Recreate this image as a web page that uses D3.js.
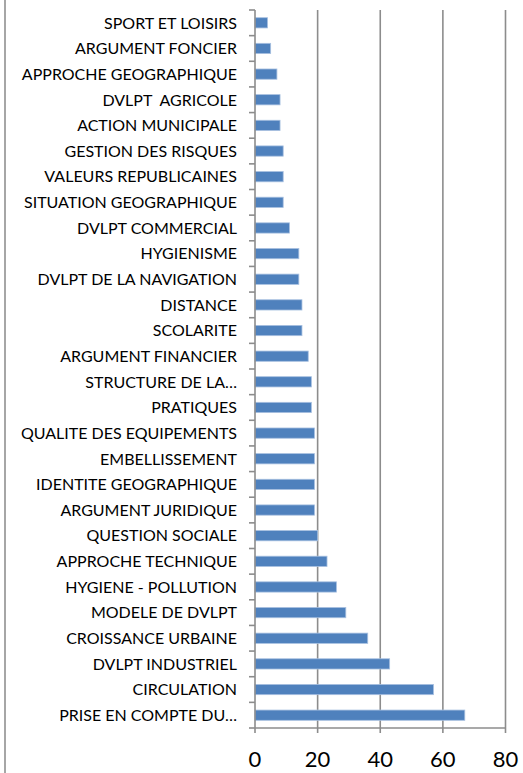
<!DOCTYPE html>
<html>
<head>
<meta charset="utf-8">
<script src="https://cdn.jsdelivr.net/npm/d3@7"></script>
<style>
  html, body { margin: 0; padding: 0; background: #fff; }
  svg { display: block; }
  text { white-space: pre; }
</style>
</head>
<body>
<svg id="chart" width="523" height="773"></svg>
<script>
// Categories, top to bottom as drawn
const categories = [
  "SPORT ET LOISIRS",
  "ARGUMENT FONCIER",
  "APPROCHE GEOGRAPHIQUE",
  "DVLPT  AGRICOLE",
  "ACTION MUNICIPALE",
  "GESTION DES RISQUES",
  "VALEURS REPUBLICAINES",
  "SITUATION GEOGRAPHIQUE",
  "DVLPT COMMERCIAL",
  "HYGIENISME",
  "DVLPT DE LA NAVIGATION",
  "DISTANCE",
  "SCOLARITE",
  "ARGUMENT FINANCIER",
  "STRUCTURE DE LA…",
  "PRATIQUES",
  "QUALITE DES EQUIPEMENTS",
  "EMBELLISSEMENT",
  "IDENTITE GEOGRAPHIQUE",
  "ARGUMENT JURIDIQUE",
  "QUESTION SOCIALE",
  "APPROCHE TECHNIQUE",
  "HYGIENE - POLLUTION",
  "MODELE DE DVLPT",
  "CROISSANCE URBAINE",
  "DVLPT INDUSTRIEL",
  "CIRCULATION",
  "PRISE EN COMPTE DU…"
];

// Occurrence counts for each category
const values = [4, 5, 7, 8, 8, 9, 9, 9, 11, 14, 14, 15, 15, 17, 18, 18, 19, 19, 19, 19, 20, 23, 26, 29, 36, 43, 57, 67];

// Value-axis ticks
const xTicks = [0, 20, 40, 60, 80];

const data = categories.map((c, i) => ({ cat: c, val: values[i] }));

const svg = d3.select("#chart");
const plotLeft = 255, plotRight = 505.5, plotTop = 10, plotBottom = 728;

const x = d3.scaleLinear().domain([0, 80]).range([plotLeft, plotRight]);
const y = d3.scaleBand().domain(categories).range([plotTop, plotBottom]).paddingInner(0.6).paddingOuter(0.3);

const grey = "#8c8c8c";
const font = "Lato, 'Open Sans', sans-serif";

// Frame edge on the left
svg.append("line")
  .attr("x1", 5).attr("x2", 5).attr("y1", 0).attr("y2", 773)
  .attr("stroke", "#a6a6a6").attr("stroke-width", 2);

// Vertical gridlines
svg.append("g").selectAll("line")
  .data(xTicks.filter(t => t > 0))
  .join("line")
  .attr("x1", d => x(d)).attr("x2", d => x(d))
  .attr("y1", plotTop).attr("y2", plotBottom + 5)
  .attr("stroke", grey).attr("stroke-width", 1.6);

// Bars
svg.append("g").selectAll("rect")
  .data(data)
  .join("rect")
  .attr("x", x(0))
  .attr("y", d => y(d.cat))
  .attr("width", d => x(d.val) - x(0))
  .attr("height", y.bandwidth())
  .attr("fill", "#4f81bd")
  .attr("stroke", "#a8c0e0")
  .attr("stroke-width", 0.8);

// Category axis ticks at the band boundaries
const boundaries = d3.range(categories.length + 1).map(i => plotTop + i * ((plotBottom - plotTop) / categories.length));
svg.append("g").selectAll("line")
  .data(boundaries)
  .join("line")
  .attr("x1", plotLeft - 6).attr("x2", plotLeft)
  .attr("y1", d => d).attr("y2", d => d)
  .attr("stroke", grey).attr("stroke-width", 1.6);

svg.append("line")
  .attr("x1", plotLeft).attr("x2", plotLeft).attr("y1", plotTop).attr("y2", plotBottom + 5)
  .attr("stroke", grey).attr("stroke-width", 1.6);

// Bottom value axis line
svg.append("line")
  .attr("x1", plotLeft).attr("x2", plotRight).attr("y1", plotBottom).attr("y2", plotBottom)
  .attr("stroke", grey).attr("stroke-width", 1.6);

// Category labels
svg.append("g").selectAll("text")
  .data(data)
  .join("text")
  .attr("x", 237)
  .attr("y", d => y(d.cat) + y.bandwidth() / 2)
  .attr("dy", "0.36em")
  .attr("text-anchor", "end")
  .attr("font-family", font)
  .attr("font-size", 16)
  .attr("fill", "#000")
  .text(d => d.cat);

// Value tick labels
svg.append("g").selectAll("text")
  .data(xTicks)
  .join("text")
  .attr("x", d => x(d))
  .attr("y", 767)
  .attr("text-anchor", "middle")
  .attr("font-family", font)
  .attr("font-size", 22)
  .attr("fill", "#000")
  .text(d => d);
</script>
</body>
</html>
